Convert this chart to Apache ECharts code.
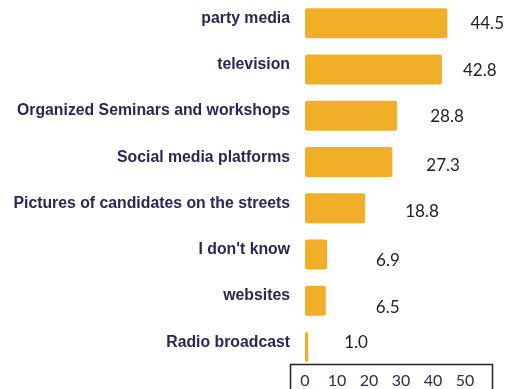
<!DOCTYPE html>
<html>
<head>
<meta charset="utf-8">
<script src="https://cdn.jsdelivr.net/npm/echarts@6/dist/echarts.min.js"></script>
<style>
  html, body { margin: 0; padding: 0; background: #fff; }
  #chart { width: 505px; height: 389px; }
</style>
</head>
<body>
<div id="chart"></div>
<script>
// Sources of information about the election campaign (%)
const categories = [
  'party media',
  'television',
  'Organized Seminars and workshops',
  'Social media platforms',
  'Pictures of candidates on the streets',
  'I don\'t know',
  'websites',
  'Radio broadcast'
];
const shares = [44.5, 42.8, 28.8, 27.3, 18.8, 6.9, 6.5, 1.0];
const axisTicks = [0, 10, 20, 30, 40, 50];

// per-bar placement of the value labels: [gap after bar end, vertical nudge]
const labelGap = [23, 21, 33, 34, 40, 49, 50, 36];
const labelNudge = [0, 1, 1, 4, 3, 6, 7, -4];

const chart = echarts.init(document.getElementById('chart'), null, { renderer: 'canvas' });

const barData = shares.map((v, i) => ({
  value: v,
  label: {
    distance: labelGap[i],
    offset: [0, labelNudge[i]]
  }
}));

chart.setOption({
  animation: false,
  backgroundColor: '#ffffff',
  grid: { left: 305, right: 40, top: 0, bottom: 19, containLabel: false },
  xAxis: {
    type: 'value',
    min: axisTicks[0],
    max: axisTicks[axisTicks.length - 1],
    interval: axisTicks[1] - axisTicks[0],
    axisLine: { show: false },
    axisTick: { show: false },
    splitLine: { show: false },
    axisLabel: {
      margin: 3,
      color: '#2d2a55',
      fontFamily: 'Lato',
      fontSize: 16
    }
  },
  yAxis: {
    type: 'category',
    data: categories,
    inverse: true,
    axisLine: { show: false },
    axisTick: { show: false },
    axisLabel: {
      margin: 15,
      color: '#2b2653',
      fontFamily: 'Liberation Sans',
      fontWeight: 'bold',
      fontSize: 15.8,
      verticalAlign: 'bottom',
      lineHeight: 9
    }
  },
  series: [{
    type: 'bar',
    data: barData,
    barWidth: 30,
    itemStyle: { color: '#f1af27', borderRadius: 2 },
    label: {
      show: true,
      position: 'right',
      color: '#1f1f1f',
      fontFamily: 'Lato',
      fontSize: 17,
      formatter: p => p.value.toFixed(1)
    }
  }],
  graphic: [{
    type: 'rect',
    left: 288,
    top: 362,
    shape: { width: 202, height: 40 },
    style: { fill: 'none', stroke: '#222', lineWidth: 1.5 },
    silent: true,
    z: 10
  }]
});
</script>
</body>
</html>
